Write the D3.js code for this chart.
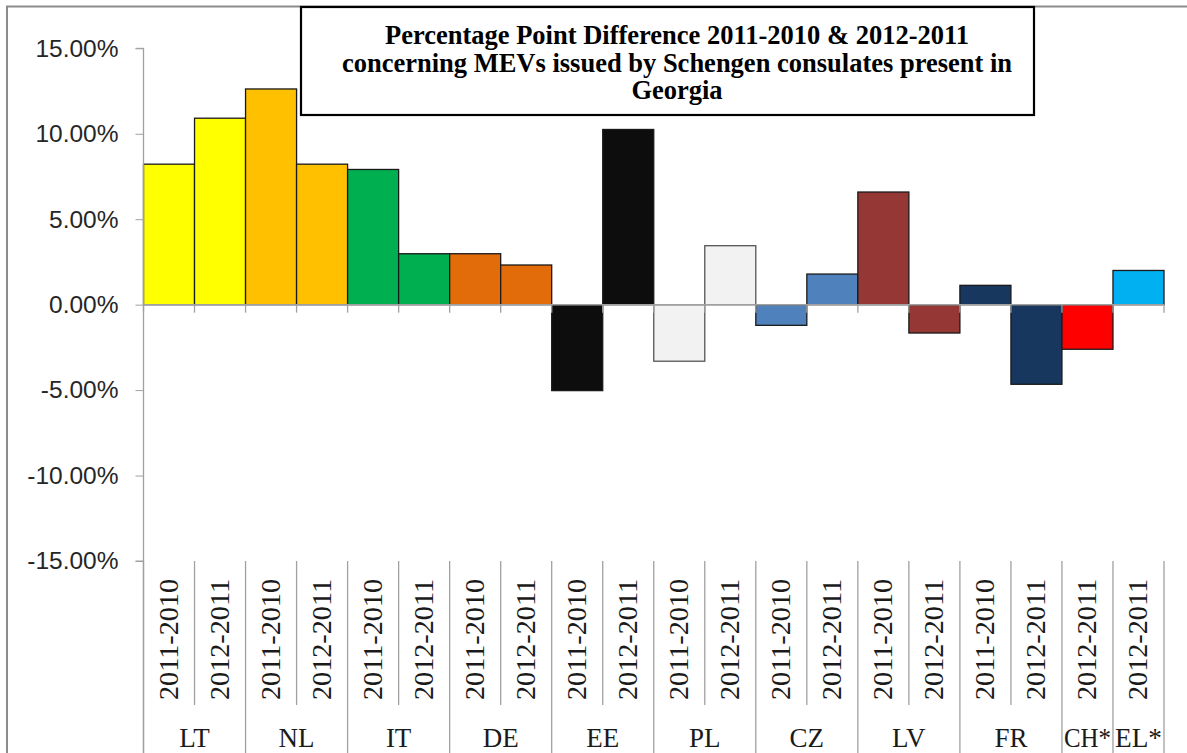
<!DOCTYPE html>
<html><head><meta charset="utf-8">
<script src="https://cdn.jsdelivr.net/npm/d3@7"></script>
<style>html,body{margin:0;padding:0;background:#fff;}svg{display:block;}</style>
</head><body>
<svg id="c" width="1187" height="753"></svg>
<script>
const countries = ["LT","NL","IT","DE","EE","PL","CZ","LV","FR","CH*","EL*"];
const periods = [
  ["2011-2010","2012-2011"],["2011-2010","2012-2011"],["2011-2010","2012-2011"],
  ["2011-2010","2012-2011"],["2011-2010","2012-2011"],["2011-2010","2012-2011"],
  ["2011-2010","2012-2011"],["2011-2010","2012-2011"],["2011-2010","2012-2011"],
  ["2012-2011"],["2012-2011"]];
const values = [
  [8.22,10.91],[12.62,8.22],[7.91,2.98],[2.98,2.32],[-5.03,10.25],
  [-3.31,3.45],[-1.21,1.79],[6.59,-1.66],[1.13,-4.66],[-2.61],[2.00]];
const colors = ["#FFFF00","#FFC000","#00B050","#E36C0A","#0D0D0D","#F2F2F2",
  "#4F81BD","#953735","#17375E","#FF0000","#00B0F0"];
const yTicks = [-15,-10,-5,0,5,10,15];
const titleLines = ["Percentage Point Difference 2011-2010 & 2012-2011",
  "concerning MEVs issued by Schengen consulates present in","Georgia"];

const bars = [];
countries.forEach((c,i)=>periods[i].forEach((p,j)=>bars.push({c,p,v:values[i][j],col:colors[i],key:c+"|"+p})));

const svg = d3.select("#c");
const L=143.5, R=1164, T=48.3, B=561;
const x = d3.scaleBand().domain(bars.map(d=>d.key)).range([L,R]).padding(0);
const y = d3.scaleLinear().domain([-15,15]).range([B,T]);

// outer border
svg.append("path").attr("d","M7,753 V6.5 H1187").attr("fill","none").attr("stroke","#8c8c8c").attr("stroke-width",2);

// bars
svg.append("g").selectAll("rect").data(bars).join("rect")
  .attr("x",d=>x(d.key)).attr("width",x.bandwidth())
  .attr("y",d=>y(Math.max(0,d.v))).attr("height",d=>Math.abs(y(d.v)-y(0)))
  .attr("fill",d=>d.col).attr("stroke",d=>d.c==="PL"?"#555":"#1a1a1a").attr("stroke-width",1.3);

// y axis
const yAxis = d3.axisLeft(y).tickValues(yTicks).tickSize(8)
  .tickFormat(d=>(d<0?"-":"")+Math.abs(d).toFixed(2)+"%");
const ga = svg.append("g").attr("transform",`translate(${L},0)`).call(yAxis);
ga.select(".domain").attr("stroke","#a0a0a0").attr("d",`M-8,${T}H0V${B}H-8`);
ga.selectAll(".tick line").attr("stroke","#a0a0a0");
ga.selectAll(".tick text").attr("x",-25).attr("font-family","Liberation Sans, Arial, sans-serif")
  .attr("font-size",24.5).attr("fill","#262626");

// zero line & ticks
svg.append("line").attr("x1",L).attr("x2",R).attr("y1",y(0)).attr("y2",y(0)).attr("stroke","#a0a0a0").attr("stroke-width",1.5);
const bounds = bars.map(d=>x(d.key)).concat([R]);
svg.append("g").selectAll("line").data(bounds).join("line")
  .attr("x1",d=>d).attr("x2",d=>d).attr("y1",y(0)).attr("y2",y(0)+8).attr("stroke","#a0a0a0").attr("stroke-width",1.3);

// category table lines
const groupStarts = new Set([L,R]);
let idx=0;
countries.forEach((c,i)=>{groupStarts.add(x(bars[idx].key)); idx+=periods[i].length;});
svg.append("g").selectAll("line").data(bounds).join("line")
  .attr("x1",d=>d).attr("x2",d=>d).attr("y1",B).attr("y2",d=>groupStarts.has(d)?753:705)
  .attr("stroke","#a0a0a0").attr("stroke-width",1.3);
svg.append("line").attr("x1",L).attr("x2",L).attr("y1",T).attr("y2",753).attr("stroke","#a0a0a0").attr("stroke-width",1.3);

// period labels
svg.append("g").selectAll("text").data(bars).join("text")
  .attr("transform",d=>`translate(${x(d.key)+x.bandwidth()/2+9},700) rotate(-90)`)
  .attr("font-family","Liberation Serif, Times New Roman, serif").attr("font-size",27.5)
  .attr("fill","#1a1a1a").attr("textLength",121).attr("lengthAdjust","spacingAndGlyphs").text(d=>d.p);

// country labels
idx=0;
const cl = countries.map((c,i)=>{const s=x(bars[idx].key); idx+=periods[i].length; const e=x(bars[idx-1].key)+x.bandwidth(); return {c,m:(s+e)/2,n:periods[i].length};});
svg.append("g").selectAll("text").data(cl).join("text")
  .attr("x",d=>d.m).attr("y",747).attr("text-anchor","middle")
  .attr("font-family","Liberation Serif, Times New Roman, serif").attr("font-size",27)
  .attr("fill","#1a1a1a")
  .each(function(d){ if(d.n===1) d3.select(this).attr("textLength",47).attr("lengthAdjust","spacingAndGlyphs"); })
  .text(d=>d.c);

// title box
svg.append("rect").attr("x",301).attr("y",7).attr("width",733).attr("height",108)
  .attr("fill","#fff").attr("stroke","#000").attr("stroke-width",2.2);
svg.append("g").selectAll("text").data(titleLines).join("text")
  .attr("x",677).attr("y",(d,i)=>44+i*27.5).attr("text-anchor","middle")
  .attr("font-family","Liberation Serif, Times New Roman, serif").attr("font-weight","bold")
  .attr("font-size",26.5).attr("fill","#000").text(d=>d);
</script>
</body></html>
